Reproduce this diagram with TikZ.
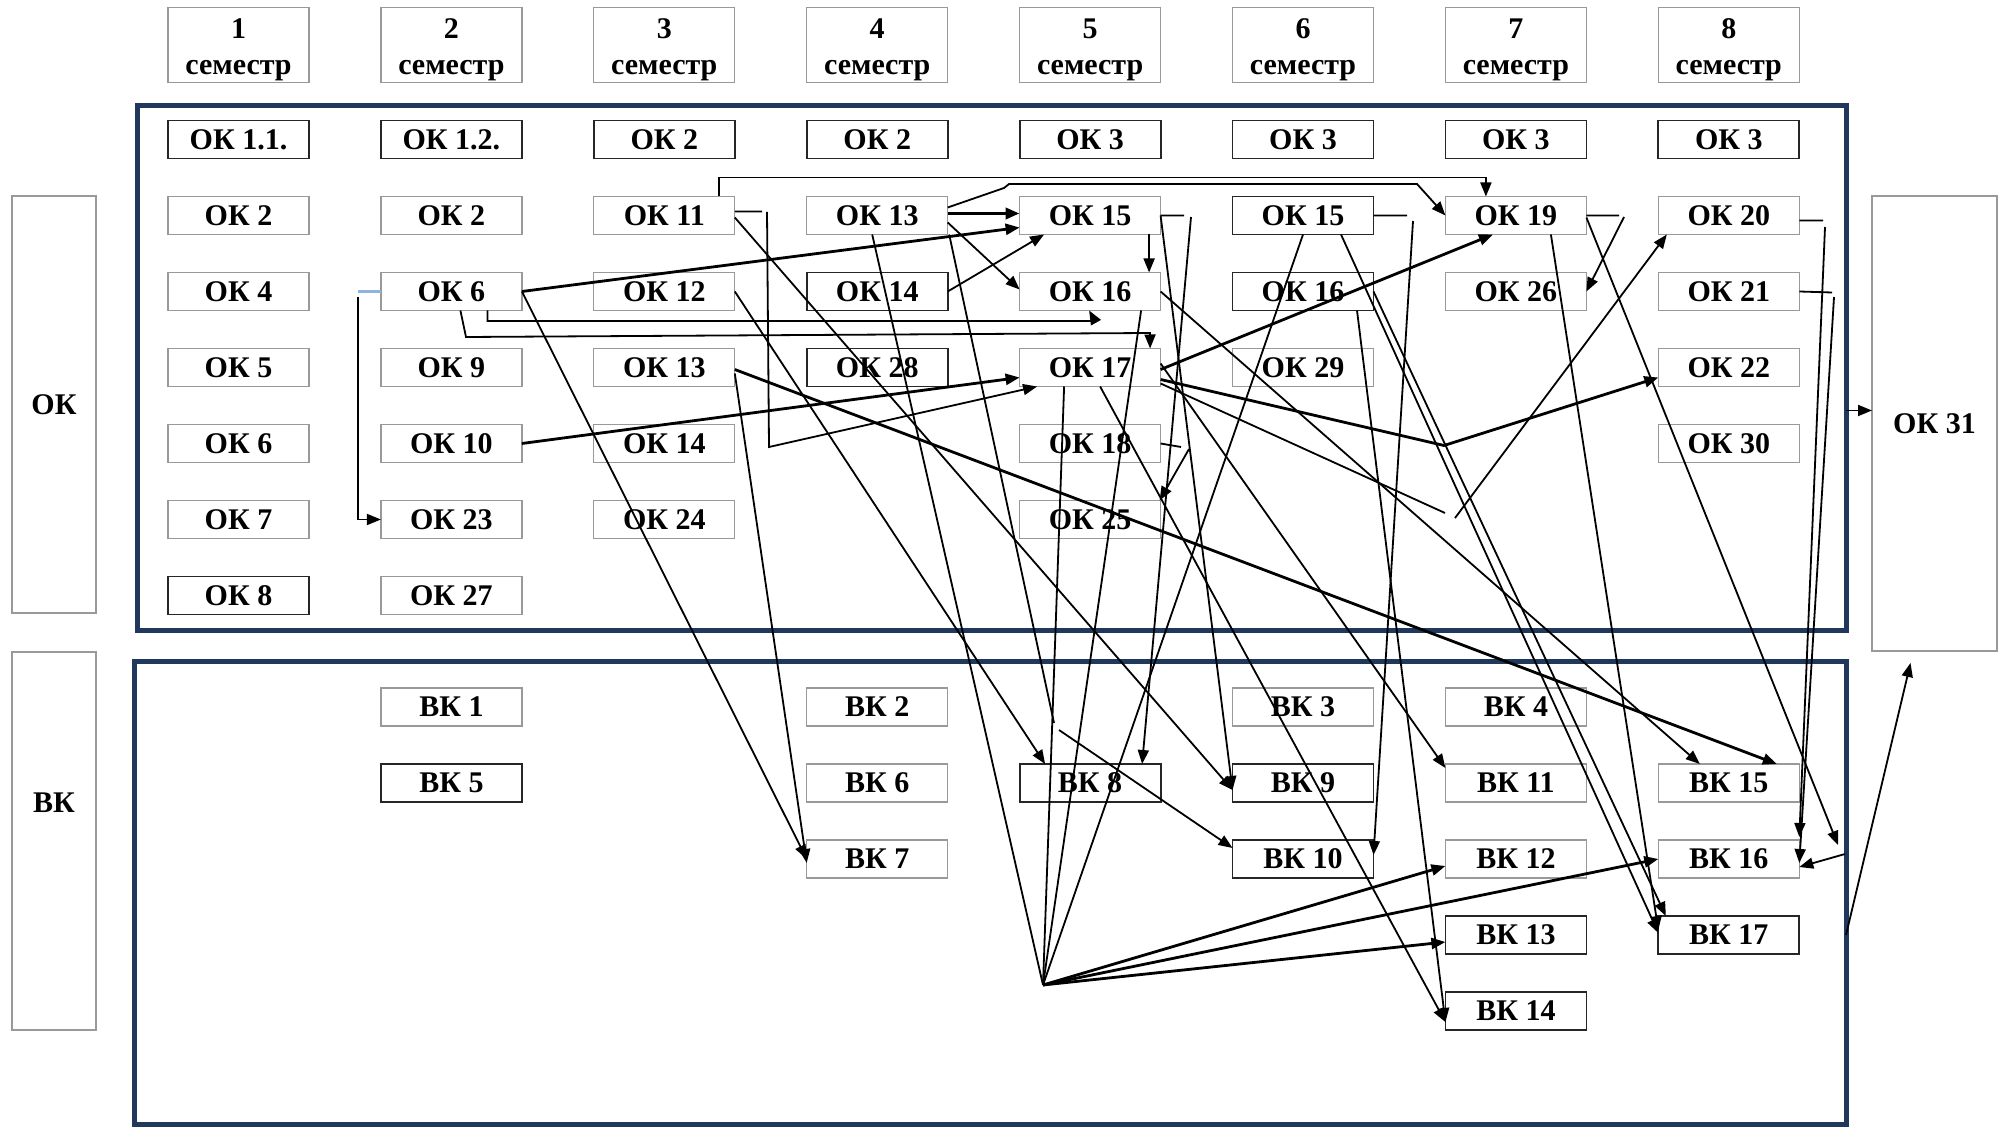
\documentclass[tikz,border=0pt]{standalone}
\usepackage{fontspec}
\setmainfont{Liberation Serif}
\usetikzlibrary{arrows.meta,positioning}

\definecolor{navy}{RGB}{31,56,92}
\definecolor{stub}{RGB}{141,180,226}

\newcommand{\semtxt}[1]{\raisebox{-2pt}[\height][\depth]{\begin{tabular}{@{}c@{}}#1\\семестр\end{tabular}}}

\tikzset{
    kbox/.style={draw=black!40, line width=0.6pt, minimum width=70.5pt, minimum height=19pt,
        inner sep=0pt, outer sep=0pt, font=\bfseries\fontsize{15}{18}\selectfont},
    kboxd/.style={kbox, draw=black!85, line width=0.9pt},
    sem/.style={kbox, minimum height=37.5pt},
    side/.style={draw=black!40, line width=0.6pt, inner sep=0pt, outer sep=0pt,
        font=\bfseries\fontsize{15}{18}\selectfont},
    frm/.style={draw=navy, line width=2.5pt, inner sep=0pt, outer sep=0pt},
    wire/.style={line width=0.9pt},
    arr/.style={wire, -{Triangle[length=7pt,width=5.5pt]}},
    heavy/.style={line width=1.4pt},
}

\begin{document}
\begin{tikzpicture}[x=0.5pt, y=-0.5pt, node distance={19pt and 35.95pt}]
    \useasboundingbox (0,0) rectangle (2006,1127);

    % semesters
    \node[sem] (s1) at (238.5,45) {\semtxt{1}};
    \node[sem, right=of s1] (s2) {\semtxt{2}};
    \node[sem, right=of s2] (s3) {\semtxt{3}};
    \node[sem, right=of s3] (s4) {\semtxt{4}};
    \node[sem, right=of s4] (s5) {\semtxt{5}};
    \node[sem, right=of s5] (s6) {\semtxt{6}};
    \node[sem, right=of s6] (s7) {\semtxt{7}};
    \node[sem, right=of s7] (s8) {\semtxt{8}};

    % frames and side boxes
    \node[frm, minimum width=854.5pt, minimum height=262.5pt] (okf) at (991.5,368.5) {};
    \node[frm, minimum width=856pt, minimum height=231.5pt] (vkf) at (990,892.5) {};
    \node[side, minimum width=42pt, minimum height=208.5pt] (okside) at (54,404.5) {ОК};
    \node[side, minimum width=42pt, minimum height=189pt] (vkside) at (54,841) {};
    \node[font=\bfseries\fontsize{15}{18}\selectfont] (vklab) at ([yshift=19pt]vkside.center) {ВК};
    \node[side, minimum width=62.5pt, minimum height=227.5pt] (okend) at (1934.5,423.5) {ОК 31};

    % OK, column by column
    \node[kboxd, below=of s1] (ok11) {ОК 1.1.};
    \node[kbox, below=of ok11] (ok12) {ОК 2};
    \node[kbox, below=of ok12] (ok13) {ОК 4};
    \node[kbox, below=of ok13] (ok14) {ОК 5};
    \node[kbox, below=of ok14] (ok15) {ОК 6};
    \node[kbox, below=of ok15] (ok16) {ОК 7};
    \node[kboxd, below=of ok16] (ok17) {ОК 8};

    \node[kboxd, below=of s2] (ok21) {ОК 1.2.};
    \node[kbox, below=of ok21] (ok22) {ОК 2};
    \node[kbox, below=of ok22] (ok23) {ОК 6};
    \node[kbox, below=of ok23] (ok24) {ОК 9};
    \node[kbox, below=of ok24] (ok25) {ОК 10};
    \node[kbox, below=of ok25] (ok26) {ОК 23};
    \node[kbox, below=of ok26] (ok27) {ОК 27};

    \node[kboxd, below=of s3] (ok31) {ОК 2};
    \node[kbox, below=of ok31] (ok32) {ОК 11};
    \node[kbox, below=of ok32] (ok33) {ОК 12};
    \node[kbox, below=of ok33] (ok34) {ОК 13};
    \node[kbox, below=of ok34] (ok35) {ОК 14};
    \node[kbox, below=of ok35] (ok36) {ОК 24};

    \node[kboxd, below=of s4] (ok41) {ОК 2};
    \node[kbox, below=of ok41] (ok42) {ОК 13};
    \node[kboxd, below=of ok42] (ok43) {ОК 14};
    \node[kboxd, below=of ok43] (ok44) {ОК 28};

    \node[kboxd, below=of s5] (ok51) {ОК 3};
    \node[kbox, below=of ok51] (ok52) {ОК 15};
    \node[kbox, below=of ok52] (ok53) {ОК 16};
    \node[kbox, below=of ok53] (ok54) {ОК 17};
    \node[kbox, below=of ok54] (ok55) {ОК 18};
    \node[kbox, below=of ok55] (ok56) {ОК 25};

    \node[kboxd, below=of s6] (ok61) {ОК 3};
    \node[kboxd, below=of ok61] (ok62) {ОК 15};
    \node[kboxd, below=of ok62] (ok63) {ОК 16};
    \node[kbox, below=of ok63] (ok64) {ОК 29};

    \node[kboxd, below=of s7] (ok71) {ОК 3};
    \node[kbox, below=of ok71] (ok72) {ОК 19};
    \node[kbox, below=of ok72] (ok73) {ОК 26};

    \node[kboxd, below=of s8] (ok81) {ОК 3};
    \node[kbox, below=of ok81] (ok82) {ОК 20};
    \node[kbox, below=of ok82] (ok83) {ОК 21};
    \node[kbox, below=of ok83] (ok84) {ОК 22};
    \node[kbox, below=of ok84] (ok85) {ОК 30};

    % VK
    \coordinate (vkrow) at (0,707);
    \coordinate (vkrow2) at (0,783);
    \node[kbox] (vk21) at (s2 |- vkrow) {ВК 1};
    \node[kboxd, below=of vk21] (vk22) {ВК 5};
    \node[kbox] (vk41) at (s4 |- vkrow) {ВК 2};
    \node[kbox, below=of vk41] (vk42) {ВК 6};
    \node[kbox, below=of vk42] (vk43) {ВК 7};
    \node[kboxd] (vk52) at (s5 |- vkrow2) {ВК 8};
    \node[kbox] (vk61) at (s6 |- vkrow) {ВК 3};
    \node[kboxd, below=of vk61] (vk62) {ВК 9};
    \node[kboxd, below=of vk62] (vk63) {ВК 10};
    \node[kbox] (vk71) at (s7 |- vkrow) {ВК 4};
    \node[kbox, below=of vk71] (vk72) {ВК 11};
    \node[kbox, below=of vk72] (vk73) {ВК 12};
    \node[kboxd, below=of vk73] (vk74) {ВК 13};
    \node[kboxd, below=of vk74] (vk75) {ВК 14};
    \node[kbox] (vk82) at (s8 |- vkrow2) {ВК 15};
    \node[kbox, below=of vk82] (vk83) {ВК 16};
    \node[kboxd, below=of vk83] (vk84) {ВК 17};

    % free ends and junctions
    \coordinate (fan) at (1043,985);
    \coordinate (t1) at (358,291.5);
    \coordinate (t2) at (358,297);
    \coordinate (k1) at (1054,723);
    \coordinate (k2) at (1059,730);
    \coordinate (k3) at (1445,513);
    \coordinate (k4) at (1455,518);
    \coordinate (k5) at (1838,845);
    \coordinate (k6) at (1845,854);
    \coordinate (o31in) at ([yshift=6.5pt]okend.west);

    % links
    \draw[stub, line width=1.2pt] (ok23.west) -- (t1);
    \draw[arr] (t2) |- (ok26.west);
    \draw[arr] ([xshift=27.5pt]ok32.north) -- ++(0,-19) -| ([xshift=-15pt]ok72.north);
    \draw[arr] ([yshift=4pt]ok42.east) -- (1004,188) -- (1009,184) -- (1417,184) -- (ok72.west);
    \draw[arr, line width=1.8pt] ([yshift=1pt]ok42.east) -- ([yshift=1pt]ok52.west);
    \draw[arr, heavy] (ok23.east) -- ([yshift=-6pt]ok52.west);
    \draw[arr] ([yshift=-3.5pt]ok42.east) -- ([yshift=1pt]ok53.west);
    \draw[arr] (ok43.east) -- ([xshift=-23pt]ok52.south);
    \draw[arr] ([xshift=18pt]ok23.south) |- (1095,321) -- ([xshift=-0.5pt]ok53.south);
    \draw[arr] ([xshift=4.5pt]ok23.south) -- (466,337) -- (1150,333) -- ([xshift=30pt]ok54.north);
    \draw[arr] (ok23.east) -- (vk43.west);
    \draw[arr, heavy] (ok25.east) -- ([yshift=-5pt]ok54.west);
    \draw[arr] ([yshift=2pt]ok32.east) -- (762,211.5) (767,212) -- (769,447) -- ([xshift=-26.5pt]ok54.south);
    \draw[arr] ([yshift=-1pt]ok32.east) -- ([yshift=-3.5pt]vk62.west);
    \draw[arr] (ok33.east) -- ([xshift=-22.5pt]vk52.north);
    \draw[arr] ([yshift=-3pt]ok34.east) -- ([yshift=-2pt]vk43.west);
    \draw[arr, heavy] ([yshift=-1pt]ok34.east) -- ([xshift=24pt]vk82.north);
    \draw[wire] ([xshift=-2.5pt]ok42.south) -- (fan);
    \draw[wire] ([xshift=36pt]ok42.south) -- (k1);
    \draw[arr] (k2) -- ([yshift=5.5pt]vk63.west);
    \draw[wire] ([xshift=-13pt]ok54.south) -- (fan);
    \draw[wire] ([xshift=25.5pt]ok53.south) -- (fan);
    \draw[wire] (ok62.south) -- (fan);
    \draw[arr, heavy] (fan) -- ([yshift=-3.5pt]vk73.west);
    \draw[arr, heavy] (fan) -- ([yshift=-3.5pt]vk74.west);
    \draw[arr, heavy] (fan) -- (vk83.west);
    \draw[arr] (ok52.east) -- (1184,215.5) (1191,217) -- ([xshift=26pt]vk52.north);
    \draw[arr] (ok52.east) -- ([yshift=-3.5pt]vk62.west);
    \draw[arr] ([xshift=29.5pt]ok52.south) -- ([xshift=29.5pt]ok53.north);
    \draw[arr] (ok53.east) -- ([xshift=-14.5pt]vk82.north);
    \draw[arr, heavy] ([yshift=-1pt]ok54.east) -- ([xshift=-11.5pt]ok72.south);
    \draw[arr, heavy] ([yshift=-6pt]ok54.east) -- (1444,445.5) -- ([yshift=-5pt]ok84.west);
    \draw[wire] ([yshift=-8pt]ok54.east) -- (k3);
    \draw[arr] (k4) -- ([xshift=-31pt]ok82.south);
    \draw[arr] ([yshift=2pt]ok54.east) -- ([yshift=7.5pt]vk72.west);
    \draw[arr] ([xshift=5pt]ok54.south) -- ([yshift=-5.5pt]vk75.west);
    \draw[arr] (ok55.east) -- (1181,447) (1189,449) -- ([xshift=-0.5pt]ok56.north east);
    \draw[arr] (ok62.east) -- (1407,215.5) (1413,221) -- ([yshift=2pt]vk63.east);
    \draw[arr] ([xshift=19pt]ok62.south) -- ([yshift=1pt]vk84.west);
    \draw[arr] (ok63.east) -- ([xshift=-31.5pt]vk84.north);
    \draw[arr] ([xshift=17.5pt]ok72.south) -- ([yshift=2.5pt]vk84.west);
    \draw[arr] ([xshift=27pt]ok63.south) -- ([yshift=-5.5pt]vk75.west);
    \draw[arr] (ok72.east) -- (1619,215.5) (1624,217) -- (ok73.east);
    \draw[arr] ([yshift=-1pt]ok72.east) -- (k5);
    \draw[arr] (k6) -- ([yshift=-4pt]vk83.east);
    \draw[arr] ([yshift=-2.5pt]ok82.east) -- (1823,220.5) (1825,227) -- ([yshift=1.5pt]vk83.north east);
    \draw[arr] (ok83.east) -- (1832,292.5) (1834,297) -- ([yshift=-2pt]vk83.east);
    \draw[arr] (vk74 -| vkf.east) -- ([shift={(-12pt,-6pt)}]okend.south);
    \draw[arr] (o31in -| okf.east) -- (o31in);
\end{tikzpicture}
\end{document}
